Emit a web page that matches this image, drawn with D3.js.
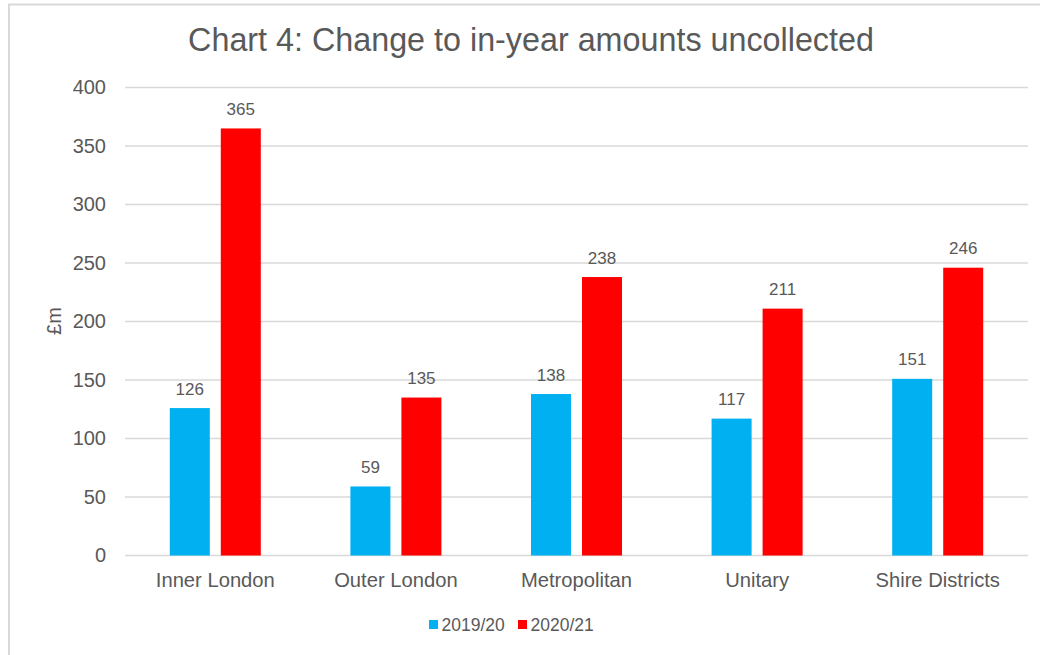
<!DOCTYPE html>
<html>
<head>
<meta charset="utf-8">
<script src="https://cdn.jsdelivr.net/npm/d3@7"></script>
<style>
  body { margin: 0; background: #fff; }
  svg { display: block; font-family: "Liberation Sans", Arial, sans-serif; }
</style>
</head>
<body>
<div id="chart"></div>
<script>
// Chart data
const categories = ["Inner London", "Outer London", "Metropolitan", "Unitary", "Shire Districts"];
const seriesNames = ["2019/20", "2020/21"];
const values2019 = [126, 59, 138, 117, 151];
const values2020 = [365, 135, 238, 211, 246];
const yTicks = [0, 50, 100, 150, 200, 250, 300, 350, 400];
const colors = ["#00B0F0", "#FF0000"];

const width = 1040;
const height = 655;
const margin = { top: 87.5, right: 12, bottom: 99.5, left: 125 };
const textColor = "#595959";

const data = categories.map((c, i) => ({ category: c, values: [values2019[i], values2020[i]] }));

const svg = d3.select("#chart").append("svg")
    .attr("width", width)
    .attr("height", height);

// chart border (only top and left visible in the crop)
svg.append("rect")
    .attr("x", 9)
    .attr("y", 4.5)
    .attr("width", width + 20)
    .attr("height", height + 20)
    .attr("fill", "none")
    .attr("stroke", "#D9D9D9")
    .attr("stroke-width", 2);

svg.append("text")
    .attr("x", 531)
    .attr("y", 51)
    .attr("text-anchor", "middle")
    .style("font-size", "32.3px")
    .style("fill", textColor)
    .text("Chart 4: Change to in-year amounts uncollected");

const x = d3.scaleBand()
    .domain(categories)
    .range([margin.left, width - margin.right])
    .padding(0);

const xInner = d3.scaleBand()
    .domain(seriesNames)
    .range([0, x.bandwidth()])
    .paddingInner(11 / 51)
    .paddingOuter(0.878);

const y = d3.scaleLinear()
    .domain([0, 400])
    .range([height - margin.bottom, margin.top]);

// gridlines
svg.append("g")
    .selectAll("line")
    .data(yTicks)
    .join("line")
    .attr("x1", margin.left)
    .attr("x2", width - margin.right)
    .attr("y1", d => y(d))
    .attr("y2", d => y(d))
    .attr("stroke", "#D9D9D9")
    .attr("stroke-width", 1.5);

// y axis labels
const yAxis = svg.append("g")
    .attr("transform", `translate(${margin.left - 19},0)`)
    .call(d3.axisLeft(y).tickValues(yTicks).tickSize(0).tickPadding(0));
yAxis.select(".domain").remove();
yAxis.selectAll("text")
    .style("font-size", "20px")
    .style("font-family", "Liberation Sans, Arial, sans-serif")
    .attr("fill", textColor);

svg.append("text")
    .attr("transform", "translate(61,321) rotate(-90)")
    .attr("text-anchor", "middle")
    .style("font-size", "20px")
    .style("fill", textColor)
    .text("£m");

// bars
const groups = svg.append("g")
    .selectAll("g")
    .data(data)
    .join("g")
    .attr("transform", d => `translate(${x(d.category)},0)`);

groups.selectAll("rect")
    .data(d => d.values.map((v, i) => ({ key: seriesNames[i], value: v, i })))
    .join("rect")
    .attr("x", d => xInner(d.key))
    .attr("y", d => y(d.value))
    .attr("width", xInner.bandwidth())
    .attr("height", d => y(0) - y(d.value))
    .attr("fill", d => colors[d.i]);

groups.selectAll("text")
    .data(d => d.values.map((v, i) => ({ key: seriesNames[i], value: v })))
    .join("text")
    .attr("x", d => xInner(d.key) + xInner.bandwidth() / 2)
    .attr("y", d => y(d.value) - 13.5)
    .attr("text-anchor", "middle")
    .style("font-size", "17px")
    .style("fill", textColor)
    .text(d => d.value);

// x axis labels
const xAxis = svg.append("g")
    .attr("transform", `translate(0,${y(0)})`)
    .call(d3.axisBottom(x).tickSize(0).tickPadding(0));
xAxis.select(".domain").remove();
xAxis.selectAll("text")
    .attr("dy", 0)
    .attr("y", 31)
    .style("font-size", "20.2px")
    .style("font-family", "Liberation Sans, Arial, sans-serif")
    .attr("fill", textColor);

// legend
const legendX = [429, 518];
const legend = svg.append("g")
    .selectAll("g")
    .data(seriesNames)
    .join("g")
    .attr("transform", (d, i) => `translate(${legendX[i]},620)`);

legend.append("rect")
    .attr("width", 9)
    .attr("height", 9)
    .attr("fill", (d, i) => colors[i]);

legend.append("text")
    .attr("x", 12.5)
    .attr("y", 11)
    .style("font-size", "17.5px")
    .style("fill", textColor)
    .text(d => d);
</script>
</body>
</html>
